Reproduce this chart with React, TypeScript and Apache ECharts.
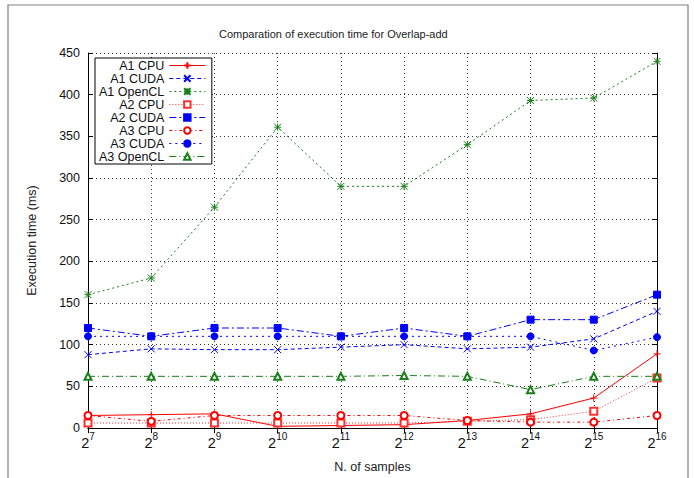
import React, { useEffect, useRef } from "react";
import * as echarts from "echarts";

const categories = ["7", "8", "9", "10", "11", "12", "13", "14", "15", "16"];
const yTicks = { min: 0, max: 450, interval: 50 };

const a1Cpu = [15, 16, 17, 2, 3, 4, 9, 17, 36, 89];
const a1Cuda = [88, 95, 94, 94, 97, 100, 95, 97, 107, 140];
const a1OpenCL = [160, 180, 265, 361, 290, 290, 340, 393, 396, 440];
const a2Cpu = [6, 6, 6, 6, 6, 6, 8, 10, 20, 60];
const a2Cuda = [120, 110, 120, 120, 110, 120, 110, 130, 130, 160];
const a3Cpu = [15, 8, 15, 15, 15, 15, 9, 7, 7, 15];
const a3Cuda = [110, 110, 110, 110, 110, 110, 110, 110, 93, 109];
const a3OpenCL = [62, 62, 62, 62, 62, 63, 62, 46, 62, 62];

const RED = "#ff0000";
const BLUE = "#0000ff";
const GREEN = "#1a7f1a";

const PLUS = "path://M0,5L10,5M5,0L5,10";
const CROSS = "path://M0,0L10,10M10,0L0,10";
const STAR = "path://M0,0L10,10M10,0L0,10M0,5L10,5M5,0L5,10";

function mk(name: string, data: number[], color: string, dash: any, symbol: string) {
  return {
    name,
    type: "line",
    data,
    xAxisIndex: 0,
    yAxisIndex: 0,
    symbol,
    symbolSize: 7,
    showAllSymbol: true,
    color,
    lineStyle: { color, width: 1, type: dash },
    itemStyle: { color, borderColor: color, borderWidth: 1 },
  };
}

export default function App() {
  const ref = useRef<HTMLDivElement>(null);
  useEffect(() => {
    if (!ref.current) return;
    const chart = echarts.init(ref.current, undefined, { renderer: "svg" });
    const font = "'Liberation Sans', Arial, sans-serif";
    chart.setOption({
      animation: false,
      backgroundColor: "#fff",
      textStyle: { fontFamily: font },
      title: {
        text: "Comparation of execution time for Overlap-add",
        left: 219,
        top: 28,
        textStyle: { fontFamily: font, fontSize: 11, fontWeight: "normal", color: "#222" },
        padding: 0,
      },
      graphic: [
        {
          type: "rect",
          shape: { x: 8, y: 5, width: 680, height: 500 },
          style: { fill: "none", stroke: "#808080", lineWidth: 1.2 },
          silent: true,
          z: -10,
        },
      ],
      legend: {
        orient: "vertical",
        align: "right",
        left: 95,
        top: 58,
        backgroundColor: "#fff",
        borderColor: "#000",
        borderWidth: 1,
        padding: [1, 6, 1, 4],
        itemWidth: 36,
        itemHeight: 8,
        itemGap: 0,
        lineStyle: { width: 1 },
        textStyle: { fontFamily: font, fontSize: 12.5, color: "#111", lineHeight: 12.5 },
        z: 10,
      },
      grid: { left: 88, right: 37, top: 53, bottom: 47, show: false },
      xAxis: [
        {
          type: "category",
          data: categories,
          boundaryGap: false,
          name: "N. of samples",
          nameLocation: "middle",
          nameGap: 32,
          nameTextStyle: { fontFamily: font, fontSize: 12.5, color: "#222" },
          axisLine: { show: true, lineStyle: { color: "#000", width: 1 } },
          axisTick: { show: true, inside: true, length: 5, interval: 0, lineStyle: { color: "#000" } },
          axisLabel: {
            margin: 3,
            interval: 0,
            formatter: (v: string) => `{b|2}{s|${v}}`,
            rich: {
              b: { fontFamily: font, fontSize: 14.5, color: "#111", lineHeight: 19, verticalAlign: "bottom" },
              s: { fontFamily: font, fontSize: 10, color: "#111", lineHeight: 19, verticalAlign: "top" },
            },
          },
          splitLine: { show: true, interval: 0, lineStyle: { color: "#333", width: 1, type: [1, 3] } },
        },
        {
          type: "category",
          data: categories,
          boundaryGap: false,
          position: "top",
          axisLine: { show: true, lineStyle: { color: "#000", width: 1 } },
          axisTick: { show: true, inside: true, length: 5, interval: 0, lineStyle: { color: "#000" } },
          axisLabel: { show: false },
          splitLine: { show: false },
        },
      ],
      yAxis: [
        {
          type: "value",
          min: yTicks.min,
          max: yTicks.max,
          interval: yTicks.interval,
          name: "Execution time (ms)",
          nameLocation: "middle",
          nameGap: 50,
          nameTextStyle: { fontFamily: font, fontSize: 12.5, color: "#222" },
          axisLine: { show: true, lineStyle: { color: "#000", width: 1 } },
          axisTick: { show: true, inside: true, length: 5, lineStyle: { color: "#000" } },
          axisLabel: { margin: 8, fontFamily: font, fontSize: 12.5, color: "#111" },
          splitLine: { show: true, lineStyle: { color: "#333", width: 1, type: [1, 3] } },
        },
        {
          type: "value",
          min: yTicks.min,
          max: yTicks.max,
          interval: yTicks.interval,
          position: "right",
          axisLine: { show: true, lineStyle: { color: "#000", width: 1 } },
          axisTick: { show: true, inside: true, length: 5, lineStyle: { color: "#000" } },
          axisLabel: { show: false },
          splitLine: { show: false },
        },
      ],
      series: [
        mk("A1 CPU", a1Cpu, RED, "solid", PLUS),
        mk("A1 CUDA", a1Cuda, BLUE, [4, 3], CROSS),
        mk("A1 OpenCL", a1OpenCL, GREEN, [2, 3], STAR),
        mk("A2 CPU", a2Cpu, "#ff3030", [1, 2], "emptyRect"),
        mk("A2 CUDA", a2Cuda, BLUE, [7, 3, 2, 3], "rect"),
        mk("A3 CPU", a3Cpu, RED, [3, 3, 1, 3], "emptyCircle"),
        mk("A3 CUDA", a3Cuda, BLUE, [2, 4], "circle"),
        mk("A3 OpenCL", a3OpenCL, GREEN, [7, 3, 1, 3], "emptyTriangle"),
      ],
    });
    return () => chart.dispose();
  }, []);
  return (
    <div
      ref={ref}
      style={{ position: "absolute", left: 0, top: 0, width: 694, height: 478 }}
    />
  );
}
